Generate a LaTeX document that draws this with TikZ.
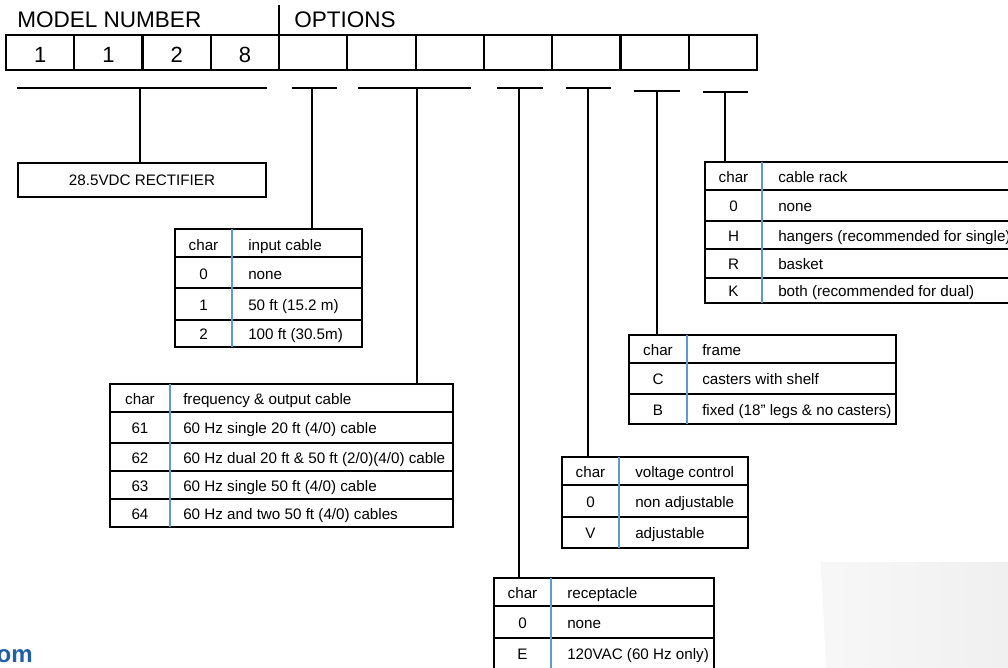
\documentclass[tikz,border=0pt]{standalone}
\usepackage{fontspec}
\setmainfont{Liberation Sans}
\usetikzlibrary{fit}
\definecolor{divblue}{HTML}{5B9BD5}
\definecolor{webblue}{HTML}{1F5FA8}
\tikzset{
  hdr/.style={font=\fontsize{16.9pt}{18pt}\selectfont, inner sep=0pt},
  digit/.style={font=\fontsize{16.5pt}{18pt}\selectfont, inner sep=0pt, anchor=base},
  cell/.style={draw, line width=1.6pt, inner sep=0pt, minimum width=51.2pt, minimum height=26.25pt},
  brk/.style={line width=1.9pt},
  stem/.style={line width=1.9pt},
  tbl/.style={draw, line width=1.1pt, inner sep=0pt},
  hline/.style={line width=2pt},
  rline/.style={line width=1.1pt},
  divline/.style={draw=divblue, line width=0.9pt},
  ttext/.style={font=\fontsize{11.4pt}{13pt}\selectfont, inner sep=0pt},
  ctext/.style={ttext, anchor=base},
  dtext/.style={ttext, anchor=base west},
}
\begin{document}
\begin{tikzpicture}[x=0.75pt,y=-0.75pt]
\useasboundingbox (0,0) rectangle (1008,668);

% faint grey panel bottom right
\shade[left color=black!3, right color=black!6] (821,562) -- (1010,562) -- (1010,670) -- (826,670) -- cycle;

% header
\node[hdr, anchor=base west] (mn) at (17,27) {MODEL NUMBER};
\node[hdr, anchor=base west] (op) at (294,27) {OPTIONS};
\draw[line width=1.5pt] (279,5) -- (279,35);

% cells
\foreach \i in {1,...,11} {
  \node[cell] (c\i) at ({6+68.27*(\i-0.5)},52.5) {};
}
\node[digit] (d1) at (c1 |- 0,62) {1};
\node[digit] (d2) at (c2 |- 0,62) {1};
\node[digit] (d3) at (c3 |- 0,62) {2};
\node[digit] (d4) at (c4 |- 0,62) {8};

% rectifier box
\node[draw, line width=1.5pt, inner sep=0pt, minimum width=186pt, minimum height=25.5pt,
      font=\fontsize{11.4pt}{13pt}\selectfont] (rect) at (142,180) {28.5VDC RECTIFIER};

% ---------- input cable table
\node[tbl, fit={(175,229) (362,347)}] (tin) {};
\draw[hline] (175,257) -- (362,257);
\draw[rline] (175,288) -- (362,288);
\draw[rline] (175,320) -- (362,320);
\draw[divline] (232,229) -- (232,347);
\node[ctext] (tin-c0) at (203.5,250) {char};
\node[dtext] (tin-d0) at (248,250) {input cable};
\node[ctext] (tin-c1) at (203.5,279.5) {0};
\node[dtext] (tin-d1) at (248,279.5) {none};
\node[ctext] (tin-c2) at (203.5,310.5) {1};
\node[dtext] (tin-d2) at (248,310.5) {50 ft (15.2 m)};
\node[ctext] (tin-c3) at (203.5,339.5) {2};
\node[dtext] (tin-d3) at (248,339.5) {100 ft (30.5m)};

% ---------- frequency table
\node[tbl, fit={(110,384) (453,527)}] (tfr) {};
\draw[hline] (110,412) -- (453,412);
\draw[rline] (110,443) -- (453,443);
\draw[rline] (110,471) -- (453,471);
\draw[rline] (110,499) -- (453,499);
\draw[divline] (170,384) -- (170,527);
\node[ctext] (tfr-c0) at (140,404) {char};
\node[dtext] (tfr-d0) at (183,404) {frequency \& output cable};
\node[ctext] (tfr-c1) at (140,433.5) {61};
\node[dtext] (tfr-d1) at (183,433.5) {60 Hz single 20 ft (4/0) cable};
\node[ctext] (tfr-c2) at (140,463) {62};
\node[dtext] (tfr-d2) at (183,463) {60 Hz dual 20 ft \& 50 ft (2/0)(4/0) cable};
\node[ctext] (tfr-c3) at (140,491) {63};
\node[dtext] (tfr-d3) at (183,491) {60 Hz single 50 ft (4/0) cable};
\node[ctext] (tfr-c4) at (140,519) {64};
\node[dtext] (tfr-d4) at (183,519) {60 Hz and two 50 ft (4/0) cables};

% ---------- cable rack table
\node[tbl, fit={(705,162) (1016,303)}] (trk) {};
\draw[hline] (705,190) -- (1016,190);
\draw[rline] (705,221) -- (1016,221);
\draw[rline] (705,249) -- (1016,249);
\draw[rline] (705,278) -- (1016,278);
\draw[divline] (762,162) -- (762,303);
\node[ctext] (trk-c0) at (733.5,182) {char};
\node[dtext] (trk-d0) at (778,182) {cable rack};
\node[ctext] (trk-c1) at (733.5,211.5) {0};
\node[dtext] (trk-d1) at (778,211.5) {none};
\node[ctext] (trk-c2) at (733.5,241) {H};
\node[dtext] (trk-d2) at (778,241) {hangers (recommended for single)};
\node[ctext] (trk-c3) at (733.5,269.5) {R};
\node[dtext] (trk-d3) at (778,269.5) {basket};
\node[ctext] (trk-c4) at (733.5,296.5) {K};
\node[dtext] (trk-d4) at (778,296.5) {both (recommended for dual)};

% ---------- frame table
\node[tbl, fit={(629,335) (896,424)}] (tfm) {};
\draw[hline] (629,363) -- (896,363);
\draw[rline] (629,394) -- (896,394);
\draw[divline] (687,335) -- (687,424);
\node[ctext] (tfm-c0) at (658,355) {char};
\node[dtext] (tfm-d0) at (702,355) {frame};
\node[ctext] (tfm-c1) at (658,384.5) {C};
\node[dtext] (tfm-d1) at (702,384.5) {casters with shelf};
\node[ctext] (tfm-c2) at (658,415) {B};
\node[dtext] (tfm-d2) at (702,415) {fixed (18” legs \& no casters)};

% ---------- voltage control table
\node[tbl, fit={(562,457) (748,548)}] (tvc) {};
\draw[hline] (562,485) -- (748,485);
\draw[rline] (562,517) -- (748,517);
\draw[divline] (619,457) -- (619,548);
\node[ctext] (tvc-c0) at (590.5,477) {char};
\node[dtext] (tvc-d0) at (635,477) {voltage control};
\node[ctext] (tvc-c1) at (590.5,507) {0};
\node[dtext] (tvc-d1) at (635,507) {non adjustable};
\node[ctext] (tvc-c2) at (590.5,538) {V};
\node[dtext] (tvc-d2) at (635,538) {adjustable};

% ---------- receptacle table
\node[tbl, fit={(494,578) (714,672)}] (trc) {};
\draw[hline] (494,606) -- (714,606);
\draw[rline] (494,638) -- (714,638);
\draw[divline] (551,578) -- (551,672);
\node[ctext] (trc-c0) at (522.5,598) {char};
\node[dtext] (trc-d0) at (567,598) {receptacle};
\node[ctext] (trc-c1) at (522.5,628) {0};
\node[dtext] (trc-d1) at (567,628) {none};
\node[ctext] (trc-c2) at (522.5,659) {E};
\node[dtext] (trc-d2) at (567,659) {120VAC (60 Hz only)};

% ---------- brackets and stems
\draw[brk] (17,88) -- (267,88);   \coordinate (b1) at (140,88);
\draw[brk] (292,88) -- (337,88);  \coordinate (b2) at (312,88);
\draw[brk] (358,88) -- (471,88);  \coordinate (b3) at (417,88);
\draw[brk] (497,88) -- (543,88);  \coordinate (b4) at (519,88);
\draw[brk] (566,88) -- (611,88);  \coordinate (b5) at (588,88);
\draw[brk] (634,91) -- (680,91);  \coordinate (b6) at (657,91);
\draw[brk] (703,92) -- (748,92);  \coordinate (b7) at (725,92);
\draw[stem] (b1) -- (b1 |- rect.north);
\draw[stem] (b2) -- (b2 |- tin.north);
\draw[stem] (b3) -- (b3 |- tfr.north);
\draw[stem] (b4) -- (b4 |- trc.north);
\draw[stem] (b5) -- (b5 |- tvc.north);
\draw[stem] (b6) -- (b6 |- tfm.north);
\draw[stem] (b7) -- (b7 |- trk.north);

% web address fragment
\node[anchor=base east, inner sep=0pt, text=webblue,
      font=\bfseries\fontsize{18pt}{20pt}\selectfont] (web) at (33,662) {om};
\end{tikzpicture}
\end{document}
